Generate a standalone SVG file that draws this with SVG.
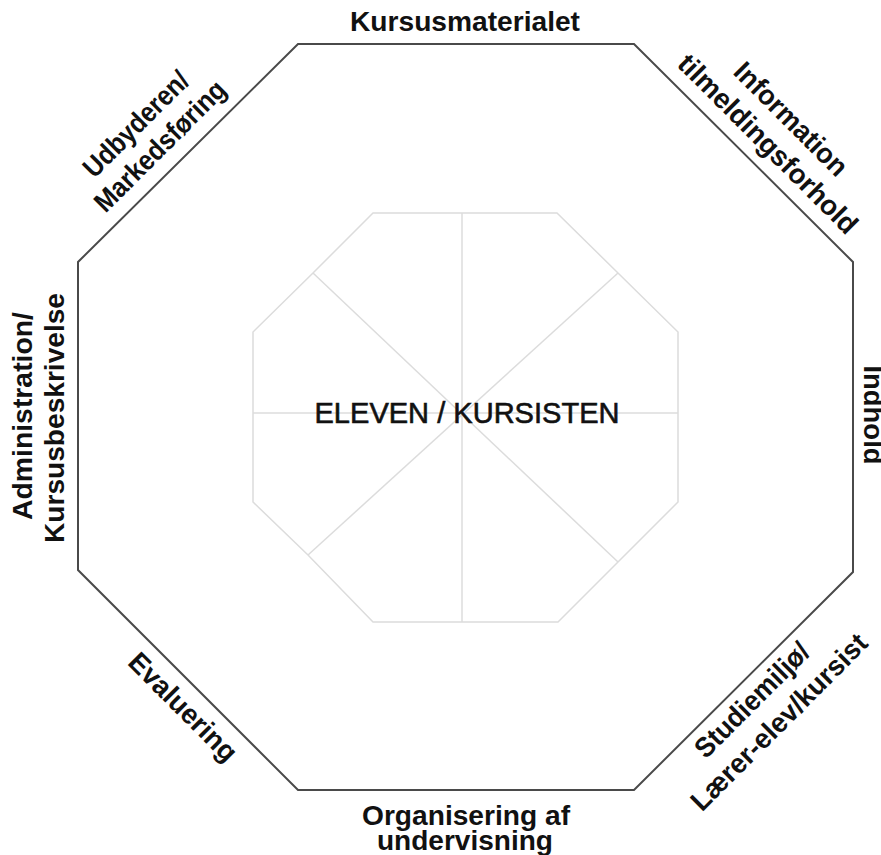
<svg xmlns="http://www.w3.org/2000/svg" width="881" height="855" viewBox="0 0 881 855">
<style>
.lbl{font-family:"Liberation Sans",Arial,sans-serif;font-size:28px;font-weight:bold;fill:#111;text-anchor:middle}
.ctr{font-family:"Liberation Sans",Arial,sans-serif;font-size:29px;fill:#111;text-anchor:middle;stroke:#111;stroke-width:0.6}
.outer{fill:#fff;stroke:#4a4a4a;stroke-width:2}
.inner{fill:none;stroke:#dcdcdc;stroke-width:1.5}
</style>
<rect width="881" height="855" fill="#fff"/>
<g id="frame">
<polygon class="outer" points="298,44 634,44 853,262 853,572 634,790 298,790 78,570 78,262"/>
</g>
<g id="connectors">
<polygon class="inner" points="373,213 557,213 618,273 678,332 678,502 618,562 558,622 373,622 308,555 253,502 253,332 313,273"/>
<line class="inner" x1="462" y1="213" x2="462" y2="622"/>
<line class="inner" x1="253" y1="413" x2="678" y2="413"/>
<line class="inner" x1="313" y1="273" x2="618" y2="562"/>
<line class="inner" x1="618" y1="273" x2="308" y2="555"/>
</g>
<g id="center">
<text class="ctr" x="467" y="423" textLength="305" lengthAdjust="spacingAndGlyphs">ELEVEN / KURSISTEN</text>
</g>
<g id="top">
<text class="lbl" x="465" y="31" textLength="230" lengthAdjust="spacingAndGlyphs">Kursusmaterialet</text>
</g>
<g id="upper-left">
<text class="lbl" transform="translate(142.7,130.7) rotate(-45)" textLength="137" lengthAdjust="spacingAndGlyphs">Udbyderen/</text>
<text class="lbl" transform="translate(166.7,152.7) rotate(-45)" textLength="173" lengthAdjust="spacingAndGlyphs">Markedsføring</text>
</g>
<g id="upper-right">
<text class="lbl" transform="translate(784.3,125.7) rotate(45)" textLength="148" lengthAdjust="spacingAndGlyphs">Information</text>
<text class="lbl" transform="translate(761.3,150.7) rotate(45)" textLength="241" lengthAdjust="spacingAndGlyphs">tilmeldingsforhold</text>
</g>
<g id="right">
<text class="lbl" transform="translate(864,415) rotate(90)" textLength="99" lengthAdjust="spacingAndGlyphs">Indhold</text>
</g>
<g id="left">
<text class="lbl" transform="translate(32,416) rotate(-90)" textLength="208" lengthAdjust="spacingAndGlyphs">Administration/</text>
<text class="lbl" transform="translate(64,418) rotate(-90)" textLength="250" lengthAdjust="spacingAndGlyphs">Kursusbeskrivelse</text>
</g>
<g id="lower-left">
<text class="lbl" transform="translate(176.3,713.7) rotate(45)" textLength="141" lengthAdjust="spacingAndGlyphs">Evaluering</text>
</g>
<g id="lower-right">
<text class="lbl" transform="translate(758.7,706.7) rotate(-45)" textLength="150" lengthAdjust="spacingAndGlyphs">Studiemiljø/</text>
<text class="lbl" transform="translate(785.7,728.7) rotate(-45)" textLength="237" lengthAdjust="spacingAndGlyphs">Lærer-elev/kursist</text>
</g>
<g id="bottom">
<text class="lbl" x="466" y="825" textLength="208" lengthAdjust="spacingAndGlyphs">Organisering af</text>
<text class="lbl" x="465" y="850" textLength="176" lengthAdjust="spacingAndGlyphs">undervisning</text>
</g>
</svg>
